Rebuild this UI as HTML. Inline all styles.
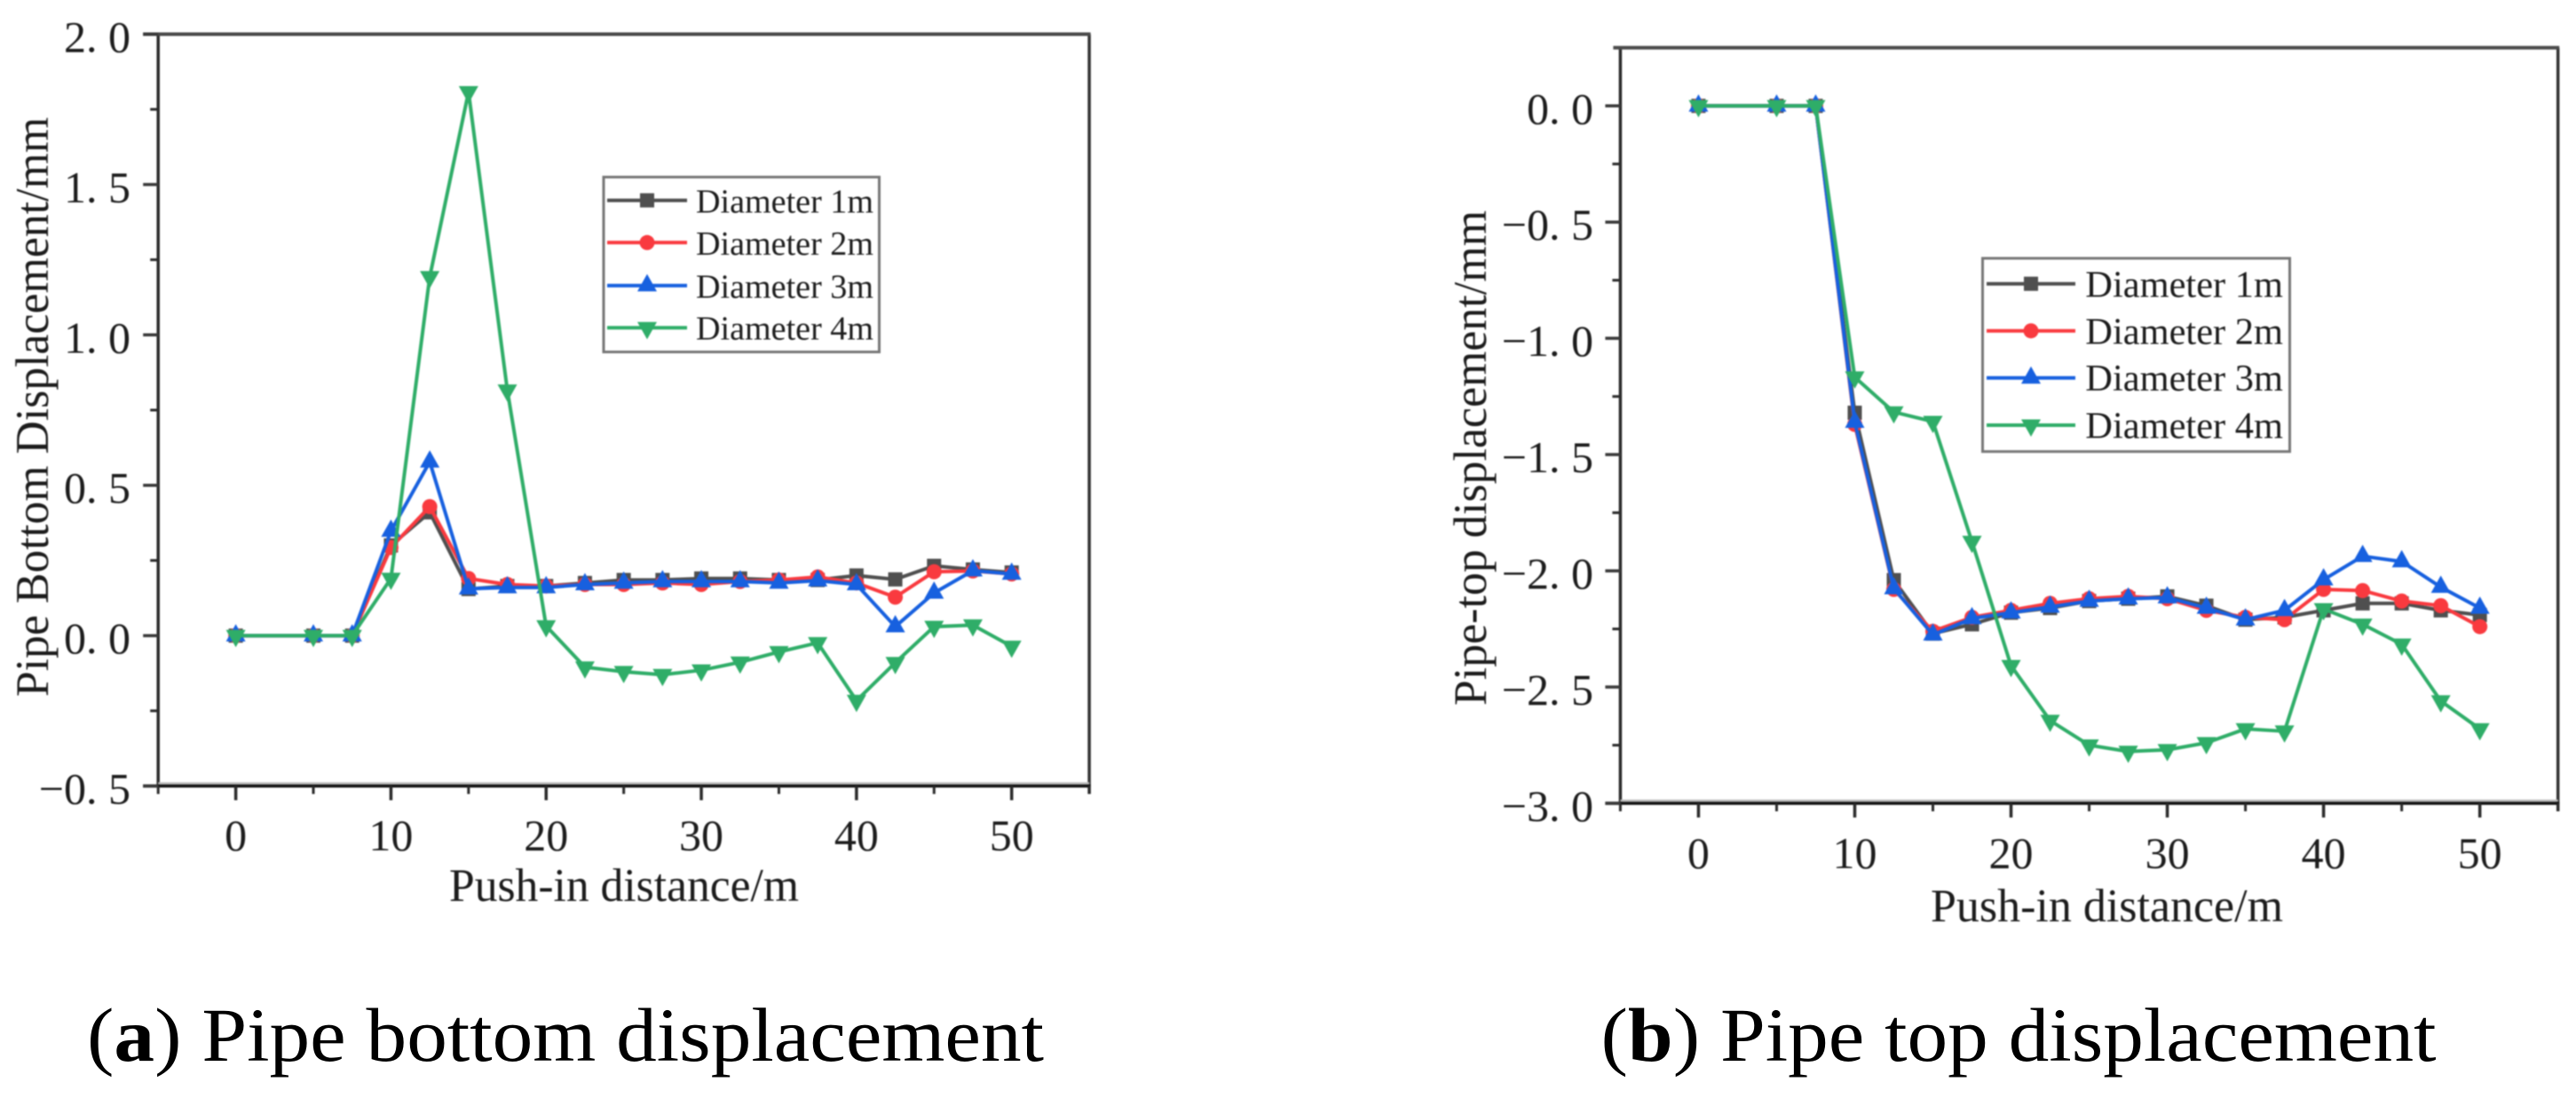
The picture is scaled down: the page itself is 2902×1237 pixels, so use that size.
<!DOCTYPE html>
<html lang="en">
<head>
<meta charset="utf-8">
<title>Pipe bottom and top displacement</title>
<style>
  html, body { margin: 0; padding: 0; background: #fff; }
  svg { display: block; }
  text { font-family: "Liberation Serif", "Noto Serif CJK SC", serif; fill: #1c1c1c; }
  .soft { filter: blur(0.7px); }
  .tick-text { font-size: 50px; }
  .axis-title { font-size: 53px; }
  .legend-left { font-size: 38px; }
  .legend-right { font-size: 42.4px; }
  .caption { font-size: 86px; fill: #000; }
</style>
</head>
<body>
<svg id="figure" xmlns="http://www.w3.org/2000/svg" width="2902" height="1237" viewBox="0 0 2902 1237">
  <rect x="0" y="0" width="2902" height="1237" fill="#ffffff"/>

  <g id="chart-bottom" class="soft">
    <text class="axis-title" transform="translate(54,785) rotate(-90)" textLength="653" lengthAdjust="spacingAndGlyphs">Pipe Bottom Displacement/mm</text>
    <text class="axis-title" x="506" y="1015" textLength="394" lengthAdjust="spacingAndGlyphs">Push-in distance/m</text>
  </g>

  <g id="chart-top" class="soft">
    <text class="axis-title" transform="translate(1674,795) rotate(-90)" textLength="558" lengthAdjust="spacingAndGlyphs">Pipe-top displacement/mm</text>
    <text class="axis-title" x="2175" y="1038" textLength="397" lengthAdjust="spacingAndGlyphs">Push-in distance/m</text>
  </g>

  <g class="soft">
    <rect x="680" y="199.5" width="310.5" height="197" fill="#fff" stroke="#777" stroke-width="3"/>
    <g>
      <line x1="684" x2="774" y1="225.7" y2="225.7" stroke="#4f4f4f" stroke-width="4"/>
      <rect x="721" y="217.7" width="16" height="16" fill="#4f4f4f"/>
      <text class="legend-left" x="784" y="239.3" textLength="200" lengthAdjust="spacingAndGlyphs">Diameter 1m</text>
    </g>
    <g>
      <line x1="684" x2="774" y1="273.3" y2="273.3" stroke="#f93a3f" stroke-width="4"/>
      <circle cx="729" cy="273.3" r="8.5" fill="#f93a3f"/>
      <text class="legend-left" x="784" y="287" textLength="200" lengthAdjust="spacingAndGlyphs">Diameter 2m</text>
    </g>
    <g>
      <line x1="684" x2="774" y1="321.7" y2="321.7" stroke="#1760df" stroke-width="4"/>
      <path d="M729 308.7 L740 328.2 L718 328.2 Z" fill="#1760df"/>
      <text class="legend-left" x="784" y="335.3" textLength="200" lengthAdjust="spacingAndGlyphs">Diameter 3m</text>
    </g>
    <g>
      <line x1="684" x2="774" y1="369.3" y2="369.3" stroke="#2fad68" stroke-width="4"/>
      <path d="M729 382.3 L740 362.8 L718 362.8 Z" fill="#2fad68"/>
      <text class="legend-left" x="784" y="382.7" textLength="200" lengthAdjust="spacingAndGlyphs">Diameter 4m</text>
    </g>
  </g>

  <g class="soft">
    <rect x="2233.5" y="291" width="346" height="217.7" fill="#fff" stroke="#777" stroke-width="3"/>
    <g>
      <line x1="2238" x2="2338" y1="319.7" y2="319.7" stroke="#4f4f4f" stroke-width="4"/>
      <rect x="2280" y="311.7" width="16" height="16" fill="#4f4f4f"/>
      <text class="legend-right" x="2349.3" y="334.3" textLength="222.7" lengthAdjust="spacingAndGlyphs">Diameter 1m</text>
    </g>
    <g>
      <line x1="2238" x2="2338" y1="372.7" y2="372.7" stroke="#f93a3f" stroke-width="4"/>
      <circle cx="2288" cy="372.7" r="8.5" fill="#f93a3f"/>
      <text class="legend-right" x="2349.3" y="387.3" textLength="222.7" lengthAdjust="spacingAndGlyphs">Diameter 2m</text>
    </g>
    <g>
      <line x1="2238" x2="2338" y1="425.7" y2="425.7" stroke="#1760df" stroke-width="4"/>
      <path d="M2288 412.7 L2299 432.2 L2277 432.2 Z" fill="#1760df"/>
      <text class="legend-right" x="2349.3" y="440" textLength="222.7" lengthAdjust="spacingAndGlyphs">Diameter 3m</text>
    </g>
    <g>
      <line x1="2238" x2="2338" y1="479" y2="479" stroke="#2fad68" stroke-width="4"/>
      <path d="M2288 492 L2299 472.5 L2277 472.5 Z" fill="#2fad68"/>
      <text class="legend-right" x="2349.3" y="493.3" textLength="222.7" lengthAdjust="spacingAndGlyphs">Diameter 4m</text>
    </g>
  </g>

  <text class="caption" x="98" y="1195" textLength="1078" lengthAdjust="spacingAndGlyphs">(<tspan font-weight="bold">a</tspan>) Pipe bottom displacement</text>
  <text class="caption" x="1803.5" y="1195" textLength="941" lengthAdjust="spacingAndGlyphs">(<tspan font-weight="bold">b</tspan>) Pipe top displacement</text>
</svg>

<script>
const distances = [0, 5, 7.5, 10, 12.5, 15, 17.5, 20, 22.5, 25, 27.5, 30, 32.5, 35, 37.5, 40, 42.5, 45, 47.5, 50];

const bottomDiameter1 = [0, 0, 0, 0.30, 0.41, 0.155, 0.165, 0.165, 0.175, 0.185, 0.185, 0.19, 0.19, 0.185, 0.185, 0.20, 0.187, 0.232, 0.22, 0.21];
const bottomDiameter2 = [0, 0, 0, 0.293, 0.429, 0.19, 0.17, 0.165, 0.17, 0.17, 0.175, 0.17, 0.18, 0.185, 0.195, 0.175, 0.128, 0.2125, 0.215, 0.205];
const bottomDiameter3 = [0, 0, 0, 0.348, 0.578, 0.156, 0.16, 0.16, 0.17, 0.175, 0.18, 0.18, 0.18, 0.175, 0.183, 0.17, 0.03, 0.142, 0.216, 0.205];
const bottomDiameter4 = [0, 0, 0, 0.19, 1.193, 1.808, 0.816, 0.032, -0.105, -0.12, -0.13, -0.115, -0.0885, -0.054, -0.024, -0.216, -0.09, 0.03, 0.035, -0.036];

const topDiameter1 = [0, 0, 0, -1.32, -2.04, -2.27, -2.23, -2.18, -2.16, -2.13, -2.12, -2.11, -2.15, -2.21, -2.2, -2.17, -2.14, -2.14, -2.17, -2.19];
const topDiameter2 = [0, 0, 0, -1.37, -2.08, -2.26, -2.2, -2.17, -2.14, -2.12, -2.11, -2.12, -2.17, -2.2, -2.21, -2.08, -2.085, -2.13, -2.15, -2.24];
const topDiameter3 = [0, 0, 0, -1.36, -2.076, -2.275, -2.205, -2.18, -2.155, -2.13, -2.12, -2.115, -2.16, -2.21, -2.17, -2.038, -1.937, -1.96, -2.07, -2.16];
const topDiameter4 = [0, 0, 0, -1.167, -1.317, -1.358, -1.874, -2.408, -2.644, -2.75, -2.777, -2.77, -2.74, -2.68, -2.69, -2.164, -2.23, -2.316, -2.56, -2.68];

const xMajorTicks = [0, 10, 20, 30, 40, 50];
const xMinorTicks = [-5, 5, 15, 25, 35, 45, 55];
const xTickLabels = ["0", "10", "20", "30", "40", "50"];

const bottomYMajorTicks = [2, 1.5, 1, 0.5, 0, -0.5];
const bottomYMinorTicks = [1.75, 1.25, 0.75, 0.25, -0.25];
const bottomYTickLabels = ["2. 0", "1. 5", "1. 0", "0. 5", "0. 0", "\u22120. 5"];

const topYMajorTicks = [0, -0.5, -1, -1.5, -2, -2.5, -3];
const topYMinorTicks = [-0.25, -0.75, -1.25, -1.75, -2.25, -2.75];
const topYTickLabels = ["0. 0", "\u22120. 5", "\u22121. 0", "\u22121. 5", "\u22122. 0", "\u22122. 5", "\u22123. 0"];

const SVG_NS = 'http://www.w3.org/2000/svg';

function makeEl(tag, attrs, parent) {
  const node = document.createElementNS(SVG_NS, tag);
  Object.keys(attrs).forEach(function (k) { node.setAttribute(k, attrs[k]); });
  parent.appendChild(node);
  return node;
}

function linearScale(domain, range) {
  return function (v) {
    return range[0] + (v - domain[0]) * (range[1] - range[0]) / (domain[1] - domain[0]);
  };
}

function drawMarker(kind, px, py, color, parent) {
  let el;
  if (kind === 'square') {
    el = makeEl('rect', { x: px - 8, y: py - 8, width: 16, height: 16, fill: color }, parent);
  } else if (kind === 'circle') {
    el = makeEl('circle', { cx: px, cy: py, r: 8.5, fill: color }, parent);
  } else if (kind === 'up') {
    el = makeEl('path', { d: 'M' + px + ' ' + (py - 13) + ' L' + (px + 11) + ' ' + (py + 6.5) + ' L' + (px - 11) + ' ' + (py + 6.5) + ' Z', fill: color }, parent);
  } else {
    el = makeEl('path', { d: 'M' + px + ' ' + (py + 13) + ' L' + (px + 11) + ' ' + (py - 6.5) + ' L' + (px - 11) + ' ' + (py - 6.5) + ' Z', fill: color }, parent);
  }
  
  
}

function drawSeries(values, color, kind, x, y, parent) {
  const group = makeEl('g', {}, parent);
  
  
  const pts = values.map(function (v, i) { return x(distances[i]).toFixed(2) + ',' + y(v).toFixed(2); }).join(' ');
  const line = makeEl('polyline', { points: pts, fill: 'none', stroke: color, 'stroke-width': 4, 'stroke-linejoin': 'round' }, group);
  
  
  values.forEach(function (v, i) { drawMarker(kind, x(distances[i]), y(v), color, group); });
}

function drawChart(parent, frame, yMajor, yMinor, yLabels, series, xLabelBaseline, yLabelRight) {
  const x = linearScale([-5, 55], frame.xRange);
  const y = linearScale(frame.yDomain, frame.yRange);
  const left = frame.xRange[0], right = frame.xRange[1];
  const bottom = frame.yRange[0], top = frame.yRange[1];

  const spines = makeEl('g', {}, parent);
  
  
  makeEl('line', { x1: left, x2: left, y1: top, y2: bottom, stroke: '#2a2a2a', 'stroke-width': 3.5 }, spines);
  makeEl('line', { x1: right, x2: right, y1: top, y2: bottom + 9, stroke: '#333', 'stroke-width': 3.5 }, spines);
  makeEl('line', { x1: left - (frame.topTickOut || 0), x2: right + 1.5, y1: top, y2: top, stroke: '#4a4a4a', 'stroke-width': 4 }, spines);
  makeEl('line', { x1: left, x2: right, y1: bottom - 3, y2: bottom - 3, stroke: '#bbb', 'stroke-width': 2.5 }, spines);
  makeEl('line', { x1: left - 17, x2: right + 1.5, y1: bottom, y2: bottom, stroke: '#111', 'stroke-width': 3.5 }, spines);

  xMajorTicks.forEach(function (v, i) {
    const tick = makeEl('line', { x1: x(v), x2: x(v), y1: bottom, y2: bottom + 16, stroke: '#2a2a2a', 'stroke-width': 3.5 }, parent);
    
    
    const label = makeEl('text', { x: x(v), y: xLabelBaseline, 'text-anchor': 'middle', class: 'tick-text' }, parent);
    label.textContent = xTickLabels[i];
    
    
  });
  xMinorTicks.forEach(function (v) {
    const tick = makeEl('line', { x1: x(v), x2: x(v), y1: bottom, y2: bottom + 9, stroke: '#2a2a2a', 'stroke-width': 3 }, parent);
    
    
  });
  yMajor.forEach(function (v, i) {
    const tick = makeEl('line', { x1: left - 17, x2: left, y1: y(v), y2: y(v), stroke: '#3a3a3a', 'stroke-width': 3.5 }, parent);
    
    
    const label = makeEl('text', { x: yLabelRight, y: y(v) + 20, 'text-anchor': 'end', class: 'tick-text' }, parent);
    label.textContent = yLabels[i];
    
    
  });
  yMinor.forEach(function (v) {
    const tick = makeEl('line', { x1: left - 9, x2: left, y1: y(v), y2: y(v), stroke: '#2a2a2a', 'stroke-width': 3 }, parent);
    
    
  });
  series.forEach(function (s) { drawSeries(s.values, s.color, s.kind, x, y, parent); });
}

drawChart(
  document.getElementById('chart-bottom'),
  { xRange: [178.2, 1227.1], yDomain: [-0.5, 2], yRange: [885.5, 38.5], topTickOut: 17 },
  bottomYMajorTicks, bottomYMinorTicks, bottomYTickLabels,
  [
    { values: bottomDiameter1, color: '#4f4f4f', kind: 'square' },
    { values: bottomDiameter2, color: '#f93a3f', kind: 'circle' },
    { values: bottomDiameter3, color: '#1760df', kind: 'up' },
    { values: bottomDiameter4, color: '#2fad68', kind: 'down' }
  ],
  958, 147
);

drawChart(
  document.getElementById('chart-top'),
  { xRange: [1825.4, 2881.7], yDomain: [-3, 0.25], yRange: [905, 53.8], topTickOut: 8 },
  topYMajorTicks, topYMinorTicks, topYTickLabels,
  [
    { values: topDiameter1, color: '#4f4f4f', kind: 'square' },
    { values: topDiameter2, color: '#f93a3f', kind: 'circle' },
    { values: topDiameter3, color: '#1760df', kind: 'up' },
    { values: topDiameter4, color: '#2fad68', kind: 'down' }
  ],
  978, 1795
);
</script>
</body>
</html>
